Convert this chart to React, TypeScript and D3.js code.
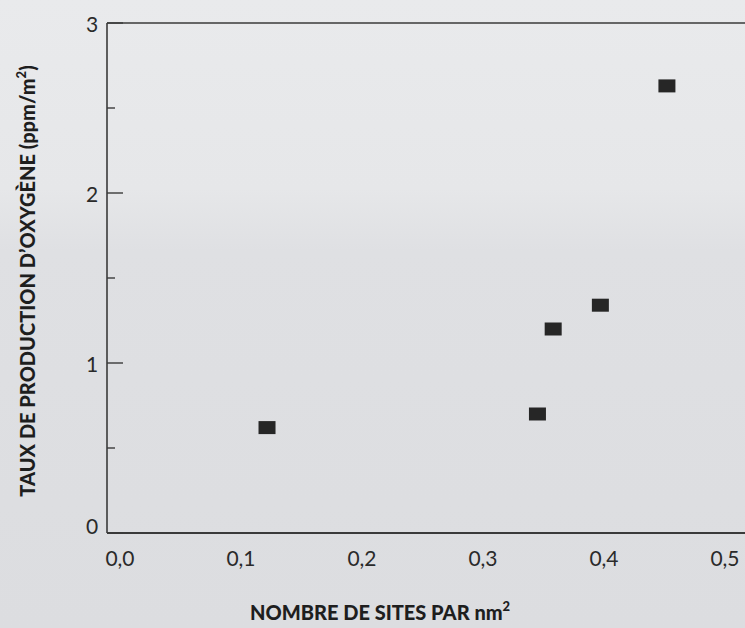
import React from "react";
import * as d3 from "d3";

const sitesPerNm2 = [0.1215, 0.345, 0.358, 0.397, 0.452];
const oxygenRate = [0.62, 0.7, 1.2, 1.34, 2.63];
const xTickValues = [0, 0.1, 0.2, 0.3, 0.4, 0.5];
const yMajorTicks = [0, 1, 2, 3];
const yMinorTicks = [0.5, 1.5, 2.5];
const xTitle = "NOMBRE DE SITES PAR nm";
const yTitle = "TAUX DE PRODUCTION D\u2019OXYG\u00c8NE (ppm/m";

const W = 745;
const H = 628;

export default function App() {
  const x = d3.scaleLinear().domain([0, 0.5]).range([120, 725]);
  const y = d3.scaleLinear().domain([0, 3]).range([533, 23]);
  const axisLeft = 107;
  const axisRight = 745;
  const fmtX = (v: number) => d3.format(".1f")(v).replace(".", ",");
  const labelFont = "Lato, 'DejaVu Sans', sans-serif";
  const titleFont = "Lato, 'Open Sans', sans-serif";
  const ink = "#3a3a3a";

  return (
    <div style={{ position: "fixed", left: 0, top: 0, width: W, height: H }}>
      <svg width={W} height={H} style={{ display: "block" }}>
        <defs>
          <linearGradient id="bg" x1="0" y1="0" x2="0" y2="1">
            <stop offset="0" stopColor="#e9eaec" />
            <stop offset="0.3" stopColor="#e6e7e9" />
            <stop offset="0.4" stopColor="#dfe0e3" />
            <stop offset="1" stopColor="#dcdde0" />
          </linearGradient>
        </defs>
        <rect x={0} y={0} width={W} height={H} fill="url(#bg)" />
        {/* frame lines */}
        <line x1={axisLeft} x2={axisRight} y1={y(3)} y2={y(3)} stroke={ink} strokeWidth={1.6} />
        <line x1={axisLeft} x2={axisRight} y1={y(0)} y2={y(0)} stroke={ink} strokeWidth={1.8} />
        <line x1={axisLeft} x2={axisLeft} y1={y(3)} y2={y(0)} stroke={ink} strokeWidth={1.6} />
        {/* y ticks */}
        {yMajorTicks.map((t) => (
          <line key={"M" + t} x1={axisLeft} x2={axisLeft + 16} y1={y(t)} y2={y(t)} stroke={ink} strokeWidth={1.4} />
        ))}
        {yMinorTicks.map((t) => (
          <line key={"m" + t} x1={axisLeft} x2={axisLeft + 8} y1={y(t)} y2={y(t)} stroke={ink} strokeWidth={1.4} />
        ))}
        {yMajorTicks.map((t) => (
          <text
            key={"yl" + t}
            x={92}
            y={y(t) + (t === 0 ? -8 : 0)}
            textAnchor="middle"
            dominantBaseline="central"
            fontFamily={labelFont}
            fontWeight={400}
            fontSize={21}
            fill="#2a2a2a"
          >
            {t}
          </text>
        ))}
        {xTickValues.map((t) => (
          <text
            key={"xl" + t}
            x={x(t)}
            y={557}
            textAnchor="middle"
            dominantBaseline="central"
            fontFamily={labelFont}
            fontWeight={400}
            fontSize={21}
            fill="#2a2a2a"
          >
            {fmtX(t)}
          </text>
        ))}
        {/* data points */}
        {sitesPerNm2.map((v, i) => (
          <rect
            key={"p" + i}
            x={x(v) - 8.5}
            y={y(oxygenRate[i]) - 6.5}
            width={17}
            height={13}
            fill="#262626"
          />
        ))}
        {/* axis titles */}
        <text
          x={250}
          y={620}
          textAnchor="start"
          fontFamily={titleFont}
          fontWeight={900}
          fontSize={20}
          fill="#1e1e1e"
        >
          {xTitle}
          <tspan fontSize={13} dy={-9}>2</tspan>
        </text>
        <text
          transform={`translate(35, 281) rotate(-90)`}
          textAnchor="middle"
          fontFamily={titleFont}
          fontWeight={900}
          fontSize={20}
          fill="#1e1e1e"
        >
          {yTitle}
          <tspan fontSize={13} dy={-9}>2</tspan>
          <tspan dy={9}>)</tspan>
        </text>
      </svg>
    </div>
  );
}
